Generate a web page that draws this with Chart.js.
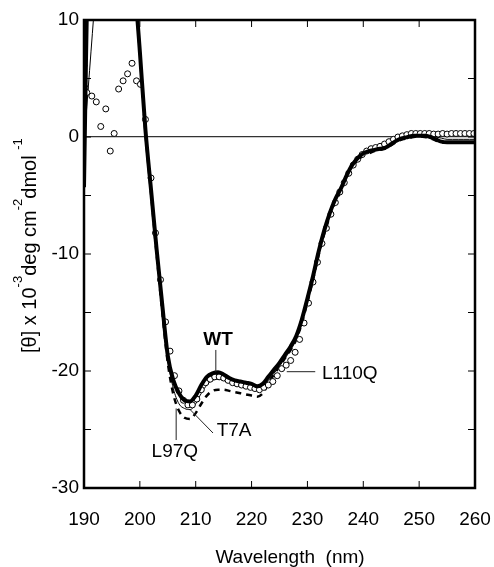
<!DOCTYPE html>
<html>
<head>
<meta charset="utf-8">
<script src="https://cdn.jsdelivr.net/npm/chart.js@4/dist/chart.umd.min.js"></script>
<style>
html,body{margin:0;padding:0;background:#fff;}
#cd{display:block;}
</style>
</head>
<body>
<canvas id="cd" width="494" height="567"></canvas>
<script>
// wavelength grid for the three traced spectra (nm)
const wavelength = [190,191,192,193,194,195,196,197,198,199,
  200,201,202,203,204,205,206,207,208,209,
  210,211,212,213,214,215,216,217,218,219,
  220,221,222,223,224,225,226,227,228,229,
  230,231,232,233,234,235,236,237,238,239,
  240,241,242,243,244,245,246,247,248,249,
  250,251,252,253,254,255,256,257,258,259,
  260];

// mean residue ellipticity, x 10^-3 deg cm2 dmol-1
const wt = [-4.3,24,30,33,35,35,34,31,24,14,
  7.3,0.6,-4.5,-9.6,-14.3,-18.7,-20.8,-21.9,-22.5,-22.6,
  -22.1,-21.2,-20.5,-20.2,-20.1,-20.3,-20.6,-20.8,-20.9,-21.0,
  -21.1,-21.3,-21.1,-20.5,-19.9,-19.3,-18.6,-17.9,-17.0,-15.6,
  -13.8,-11.9,-9.8,-8.0,-6.5,-5.3,-4.4,-3.3,-2.4,-1.8,
  -1.4,-1.2,-1.1,-1.0,-0.9,-0.6,-0.3,-0.1,0.0,0.1,
  0.1,0.1,0.0,-0.2,-0.4,-0.45,-0.45,-0.45,-0.45,-0.45,
  -0.45];

const t7a = [-0.5,5.7,12,18,24,28,30,28,23,14,
  7.3,0.5,-4.7,-9.9,-14.7,-19.0,-21.5,-22.8,-23.2,-23.3,
  -22.8,-21.9,-21.2,-20.8,-20.7,-20.8,-21.0,-21.1,-21.2,-21.3,
  -21.4,-21.5,-21.3,-20.8,-20.2,-19.6,-18.9,-18.2,-17.3,-15.9,
  -14.0,-12.1,-10.0,-8.2,-6.7,-5.5,-4.5,-3.4,-2.5,-1.9,
  -1.5,-1.3,-1.1,-1.0,-0.8,-0.5,-0.2,0.0,0.1,0.2,
  0.2,0.2,0.1,0.0,-0.1,-0.2,-0.2,-0.2,-0.2,-0.2,
  -0.2];

const l97q = [-3.5,24,30,33,35,35,34,31,24,14,
  7.2,0.4,-4.8,-10.0,-14.9,-19.3,-22.0,-23.4,-24.0,-24.1,
  -23.6,-22.8,-22.1,-21.7,-21.6,-21.6,-21.7,-21.8,-21.9,-22.0,
  -22.1,-22.2,-21.9,-21.1,-20.3,-19.6,-18.9,-18.2,-17.3,-15.9,
  -14.1,-12.2,-10.1,-8.3,-6.8,-5.6,-4.6,-3.5,-2.6,-2.0,
  -1.6,-1.4,-1.2,-1.1,-1.0,-0.7,-0.4,-0.2,-0.1,0.0,
  0.05,0.0,-0.1,-0.3,-0.45,-0.5,-0.5,-0.5,-0.5,-0.5,
  -0.5];

// L110Q is drawn as open circles at its own sampling
const l110qNm = [190.0,190.2,190.5,191.4,192.2,193.0,193.9,194.7,195.4,196.2,
  197.0,197.8,198.6,199.4,200.1,201.0,202.0,202.8,203.7,204.6,
  205.4,206.2,207.0,207.8,208.6,209.4,210.2,211.0,211.8,212.6,
  213.4,214.2,215.0,215.8,216.6,217.4,218.2,219.0,219.8,220.6,
  221.4,222.2,223.0,223.8,224.6,225.4,226.2,227.0,227.8,228.6,
  229.4,230.2,231.0,231.8,232.6,233.4,234.2,235.0,235.8,236.6,
  237.4,238.2,239.0,239.8,240.6,241.4,242.2,243.0,243.8,244.6,
  245.4,246.2,247.0,247.8,248.6,249.4,250.2,251.0,251.8,252.6,
  253.4,254.2,255.0,255.8,256.6,257.4,258.2,259.0,259.8];
const l110q = [6.1,4.2,3.8,3.5,3.0,0.9,2.4,-1.2,0.3,4.1,
  4.8,5.4,6.3,4.8,4.5,1.5,-3.5,-8.2,-12.2,-15.8,
  -18.3,-20.4,-21.7,-22.5,-22.9,-22.9,-22.4,-21.6,-21.0,-20.7,
  -20.5,-20.5,-20.6,-20.8,-21.0,-21.1,-21.2,-21.3,-21.4,-21.5,
  -21.6,-21.4,-21.2,-20.9,-20.4,-19.8,-19.5,-19.1,-18.4,-17.3,
  -15.9,-14.2,-12.4,-10.7,-9.1,-7.8,-6.6,-5.6,-4.7,-3.9,
  -3.1,-2.4,-1.9,-1.5,-1.2,-1.0,-0.9,-0.8,-0.6,-0.4,
  -0.2,0.0,0.1,0.2,0.3,0.3,0.3,0.3,0.3,0.25,
  0.25,0.3,0.25,0.3,0.3,0.3,0.3,0.3,0.3];

const xTicks = [190,200,210,220,230,240,250,260];
const yTicks = [-30,-25,-20,-15,-10,-5,0,5,10];
const yLabelled = [-30,-20,-10,0,10];

// curve labels, anchored in data units
const notes = [
  {text:'WT', bold:true, at:[214.0,-17.35], align:'center', from:[213.6,-18.2], to:[213.6,-20.1]},
  {text:'L110Q', at:[232.6,-20.2], align:'left', from:[226.3,-20.06], to:[231.4,-20.06]},
  {text:'T7A', at:[213.75,-25.1], align:'left', from:[209.0,-23.3], to:[213.1,-25.3]},
  {text:'L97Q', at:[202.1,-26.9], align:'left', from:[206.5,-23.2], to:[206.5,-25.9]}
];

const pts = (xs, ys) => xs.map((v,i)=>({x:v, y:ys[i]}));
const FONT = '"Liberation Sans", Arial, Helvetica, sans-serif';
Chart.defaults.font.family = FONT;
Chart.defaults.color = '#000';

const decor = {
  id:'decor',
  afterDraw(chart){
    const {ctx, chartArea:a, scales:{x,y}} = chart;
    const seg=(x1,y1,x2,y2)=>{ctx.beginPath();ctx.moveTo(x1,y1);ctx.lineTo(x2,y2);ctx.stroke();};
    ctx.save();
    ctx.strokeStyle='#000'; ctx.lineWidth=1;
    xTicks.forEach(v=>{const p=x.getPixelForValue(v); seg(p,a.bottom,p,a.bottom-7); seg(p,a.top,p,a.top+7);});
    yTicks.forEach(v=>{const p=y.getPixelForValue(v); seg(a.left,p,a.left+7,p); seg(a.right,p,a.right-7,p);});
    ctx.lineWidth=2.5;
    ctx.strokeRect(a.left,a.top,a.right-a.left,a.bottom-a.top);

    // labels on curves
    ctx.lineWidth=1; ctx.strokeStyle='#222'; ctx.fillStyle='#000';
    ctx.textBaseline='middle';
    notes.forEach(n=>{
      seg(x.getPixelForValue(n.from[0]),y.getPixelForValue(n.from[1]),x.getPixelForValue(n.to[0]),y.getPixelForValue(n.to[1]));
      ctx.font=(n.bold?'bold ':'')+'19px '+FONT;
      ctx.textAlign=n.align;
      ctx.fillText(n.text,x.getPixelForValue(n.at[0]),y.getPixelForValue(n.at[1]));
    });

    // axis titles
    ctx.textAlign='center'; ctx.textBaseline='alphabetic';
    ctx.font='19px '+FONT;
    ctx.fillText('Wavelength  (nm)',290,563);

    ctx.translate(36,353); ctx.rotate(-Math.PI/2);
    ctx.textAlign='left';
    let cx=0;
    [['[\u03b8] x 10',0],['-3',1],['deg cm',0],['-2',1],['dmol ',0],['-1',1]].forEach(([s,sup])=>{
      ctx.font=(sup?'13px ':'20px ')+FONT;
      ctx.fillText(s,cx,sup?-14:0);
      cx+=ctx.measureText(s).width;
    });
    ctx.restore();
  }
};

new Chart(document.getElementById('cd'),{
  type:'line',
  data:{datasets:[
    {label:'WT', data:pts(wavelength,wt), borderColor:'#000', borderWidth:4, pointRadius:0, cubicInterpolationMode:'monotone'},
    {label:'L110Q', data:pts(l110qNm,l110q), showLine:false, pointRadius:3, pointBorderWidth:1, pointBorderColor:'#000', pointBackgroundColor:'#fff'},
    {label:'L97Q', data:pts(wavelength,l97q), borderColor:'#000', borderWidth:2.5, borderDash:[6,5], pointRadius:0, cubicInterpolationMode:'monotone'},
    {label:'T7A', data:pts(wavelength,t7a), borderColor:'#000', borderWidth:1, pointRadius:0, cubicInterpolationMode:'monotone'}
  ]},
  options:{
    responsive:false, animation:false, events:[],
    layout:{padding:{top:20,right:19,left:0,bottom:0}},
    plugins:{legend:{display:false},tooltip:{enabled:false}},
    scales:{
      x:{type:'linear',min:190,max:260,
        afterFit:s=>{s.height=79; s.paddingLeft=0; s.paddingRight=0;},
        afterBuildTicks:s=>{s.ticks=xTicks.map(v=>({value:v}));},
        grid:{display:false},border:{display:false},
        ticks:{font:{size:19},padding:12,maxRotation:0,autoSkip:false}},
      y:{type:'linear',min:-30,max:10,
        afterFit:s=>{s.width=84; s.paddingTop=0; s.paddingBottom=0;},
        afterBuildTicks:s=>{s.ticks=yTicks.map(v=>({value:v}));},
        grid:{drawTicks:false,lineWidth:1.3,color:c=>c.tick&&c.tick.value===0?'#333':'rgba(0,0,0,0)'},
        border:{display:false},
        ticks:{font:{size:19},padding:5,autoSkip:false,callback:v=>yLabelled.includes(v)?String(v):''}}
    }
  },
  plugins:[decor]
});
</script>
</body>
</html>
